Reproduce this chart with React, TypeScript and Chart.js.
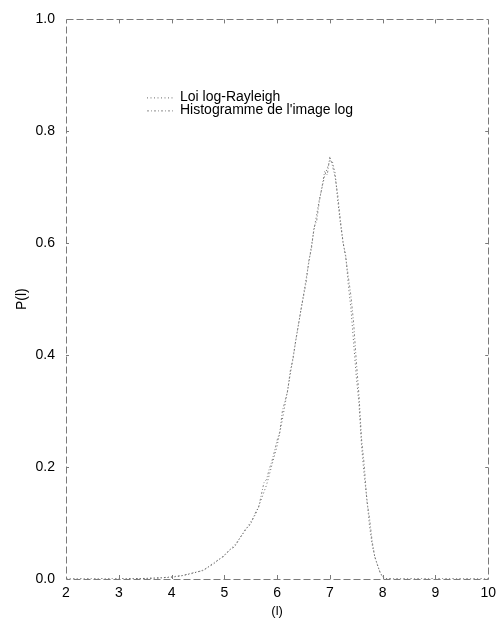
import React, { useEffect, useRef } from "react";
import { Chart, registerables } from "chart.js";

Chart.register(...registerables);

// ---- Data ----
const rayleighX = [2.0, 3.0, 3.5, 4.0, 4.2, 4.4, 4.6, 4.8, 5.0, 5.2, 5.4, 5.6, 5.8, 6.0, 6.1, 6.2, 6.3, 6.4, 6.5, 6.6, 6.7, 6.8, 6.9, 7.0, 7.05, 7.1, 7.15, 7.2, 7.25, 7.3, 7.35, 7.4, 7.45, 7.5, 7.55, 7.6, 7.65, 7.7, 7.75, 7.8, 7.85, 7.9, 7.95, 8.0, 8.05, 9.0, 10.0];
const rayleighY = [0, 0, 0.001, 0.003, 0.006, 0.010, 0.016, 0.027, 0.043, 0.061, 0.087, 0.117, 0.168, 0.238, 0.285, 0.338, 0.395, 0.452, 0.508, 0.565, 0.625, 0.678, 0.720, 0.748, 0.745, 0.725, 0.675, 0.635, 0.600, 0.578, 0.525, 0.482, 0.422, 0.362, 0.315, 0.238, 0.185, 0.145, 0.095, 0.062, 0.040, 0.025, 0.012, 0.003, 0, 0, 0];

const histX = [2.0, 3.0, 3.5, 3.8, 4.0, 4.2, 4.4, 4.6, 4.8, 5.0, 5.1, 5.2, 5.3, 5.4, 5.5, 5.6, 5.65, 5.7, 5.75, 5.8, 5.85, 5.9, 5.95, 6.0, 6.05, 6.1, 6.15, 6.2, 6.25, 6.3, 6.35, 6.4, 6.45, 6.5, 6.55, 6.6, 6.65, 6.7, 6.75, 6.8, 6.85, 6.9, 6.95, 7.0, 7.05, 7.1, 7.15, 7.2, 7.25, 7.3, 7.35, 7.4, 7.45, 7.5, 7.55, 7.6, 7.65, 7.7, 7.75, 7.8, 7.85, 7.9, 7.95, 8.0, 8.05, 8.2, 9.0, 10.0];
const histY = [0, 0, 0.001, 0.002, 0.004, 0.006, 0.011, 0.015, 0.029, 0.041, 0.052, 0.058, 0.074, 0.089, 0.098, 0.121, 0.128, 0.150, 0.172, 0.178, 0.196, 0.210, 0.228, 0.248, 0.262, 0.300, 0.318, 0.336, 0.372, 0.392, 0.425, 0.452, 0.480, 0.505, 0.530, 0.568, 0.590, 0.628, 0.640, 0.675, 0.700, 0.728, 0.722, 0.755, 0.738, 0.718, 0.685, 0.640, 0.602, 0.575, 0.540, 0.505, 0.458, 0.390, 0.330, 0.250, 0.205, 0.140, 0.110, 0.068, 0.040, 0.026, 0.012, 0.004, 0.001, 0, 0, 0];

const seriesLabels = ["Loi log-Rayleigh", "Histogramme de l'image log"];
const xTickValues = [2, 3, 4, 5, 6, 7, 8, 9, 10];
const yTickValues = [0, 0.2, 0.4, 0.6, 0.8, 1.0];
const xTitle = "(l)";
const yTitle = "P(l)";

const FONT = "'Liberation Sans', Arial, sans-serif";
const seriesColors = ["#6a6a6a", "#8c8c8c"];
const seriesDashes = [[1, 2.5], [2, 2, 1, 2]];

const framePlugin = {
  id: "frame",
  afterDatasetsDraw(chart: any) {
    const { ctx, chartArea: a, scales } = chart;
    ctx.save();
    ctx.strokeStyle = "#7a7a7a";
    ctx.lineWidth = 1;
    ctx.setLineDash([7, 3]);
    ctx.strokeRect(Math.round(a.left) + 0.5, Math.round(a.top) + 0.5, Math.round(a.width), Math.round(a.height));
    ctx.setLineDash([]);
    ctx.beginPath();
    xTickValues.slice(1, -1).forEach((v) => {
      const px = Math.round(scales.x.getPixelForValue(v)) + 0.5;
      ctx.moveTo(px, a.bottom);
      ctx.lineTo(px, a.bottom - 4);
      ctx.moveTo(px, a.top);
      ctx.lineTo(px, a.top + 4);
    });
    yTickValues.slice(1, -1).forEach((v) => {
      const py = Math.round(scales.y.getPixelForValue(v)) + 0.5;
      ctx.moveTo(a.left, py);
      ctx.lineTo(a.left + 3, py);
      ctx.moveTo(a.right, py);
      ctx.lineTo(a.right - 3, py);
    });
    ctx.stroke();
    ctx.restore();
  },
};

const legendPlugin = {
  id: "customLegend",
  afterDraw(chart: any) {
    const { ctx, chartArea: a } = chart;
    ctx.save();
    ctx.font = `14px ${FONT}`;
    ctx.textBaseline = "middle";
    ctx.fillStyle = "#000";
    const x0 = a.left + 81;
    const y0 = a.top + 78;
    chart.data.datasets.forEach((ds: any, i: number) => {
      const y = y0 + i * 13;
      ctx.strokeStyle = ds.borderColor;
      ctx.lineWidth = 1;
      ctx.setLineDash(ds.borderDash);
      ctx.beginPath();
      ctx.moveTo(x0, y + 0.5);
      ctx.lineTo(x0 + 28, y + 0.5);
      ctx.stroke();
      ctx.setLineDash([]);
      ctx.fillText(ds.label, x0 + 33, y);
    });
    ctx.restore();
  },
};

export default function App() {
  const canvasRef = useRef<HTMLCanvasElement | null>(null);

  useEffect(() => {
    if (!canvasRef.current) return;
    const chart = new Chart(canvasRef.current, {
      type: "line",
      data: {
        datasets: [
          {
            label: seriesLabels[0],
            data: rayleighX.map((x, i) => ({ x, y: rayleighY[i] })),
            borderColor: seriesColors[0],
            borderDash: seriesDashes[0],
            borderWidth: 1,
            pointRadius: 0,
            fill: false,
            tension: 0,
          },
          {
            label: seriesLabels[1],
            data: histX.map((x, i) => ({ x, y: histY[i] })),
            borderColor: seriesColors[1],
            borderDash: seriesDashes[1],
            borderWidth: 1,
            pointRadius: 0,
            fill: false,
            tension: 0,
          },
        ],
      },
      options: {
        animation: false,
        responsive: true,
        maintainAspectRatio: false,
        layout: { padding: { left: 10, right: 11, top: 16, bottom: 0 } },
        plugins: {
          legend: { display: false },
          tooltip: { enabled: false },
        },
        scales: {
          x: {
            type: "linear",
            min: 2,
            max: 10,
            grid: { display: false, drawTicks: false, tickLength: 0 },
            border: { display: false },
            ticks: {
              stepSize: 1,
              padding: 6,
              color: "#000",
              font: { family: FONT, size: 14 },
              callback: (v: any) => String(v),
            },
            title: {
              display: true,
              text: xTitle,
              color: "#000",
              font: { family: FONT, size: 13 },
              padding: { top: 0, bottom: 4 },
            },
            afterFit: (s: any) => {
              s.height = 44;
            },
          },
          y: {
            type: "linear",
            min: 0,
            max: 1,
            grid: { display: false, drawTicks: false, tickLength: 0 },
            border: { display: false },
            ticks: {
              stepSize: 0.2,
              padding: 11,
              color: "#000",
              font: { family: FONT, size: 14 },
              callback: (v: any) => Number(v).toFixed(1),
            },
            title: {
              display: true,
              text: yTitle,
              color: "#000",
              font: { family: FONT, size: 14 },
              padding: { top: 4, bottom: 0 },
            },
            afterFit: (s: any) => {
              s.width = 56;
            },
          },
        },
      },
      plugins: [framePlugin, legendPlugin],
    } as any);
    return () => chart.destroy();
  }, []);

  return (
    <div style={{ position: "fixed", left: 0, top: 0, width: 502, height: 623, background: "#fff" }}>
      <canvas ref={canvasRef} />
    </div>
  );
}
